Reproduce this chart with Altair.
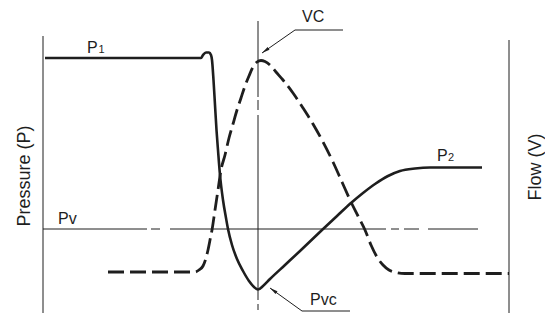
import math
import altair as alt
import pandas as pd

# ---- data (x = horizontal position, y = vertical position, downward) ----
pressure_x = [45, 201, 203, 206, 209, 211, 212, 213.5, 215, 216.5, 218, 220, 223, 226, 228, 232, 237, 243,
              249, 254, 258, 263, 270, 285, 300, 322, 337, 351, 363, 375, 388, 400, 415, 430, 482]
pressure_y = [58, 58, 55, 52.5, 52.5, 55, 60, 80, 105, 130, 150, 175, 200, 218, 229, 245, 259, 271,
              281, 287, 289.5, 286, 279, 265, 251, 230, 216, 203, 193, 184, 176, 171, 168.5, 167.5, 167.5]

flow_x = [108, 195, 199, 203, 206, 208, 210, 212, 215, 218, 221, 225, 229, 233, 237, 241, 245, 249, 253,
          257, 261, 265, 270, 276, 283, 293, 303, 313, 323, 333, 342, 351, 358, 365, 371, 377, 383, 389,
          396, 405, 418, 509]
flow_y = [272, 272, 270, 266, 258, 250, 240, 230, 210, 190, 170, 155, 138, 124, 110, 98, 86, 76, 67,
          62, 60.5, 61.5, 65, 72, 80, 93, 108, 124, 142, 162, 182, 202, 216, 230, 245, 257, 265, 270,
          272.5, 273.5, 273.5, 273.5]

vapour_level = 229          # Pv line
vc_position = 258           # vena contracta position

W, H = 537, 305
xs = alt.Scale(domain=[8, 8 + W], nice=False, zero=False)
ys = alt.Scale(domain=[8, 8 + H], nice=False, zero=False, reverse=True)
INK = "#1e1e1e"
FONT = "Liberation Sans"

def X(f):
    return alt.X(f, type="quantitative", scale=xs, axis=None)

def Y(f):
    return alt.Y(f, type="quantitative", scale=ys, axis=None)

# frame lines (pressure axis left, flow axis right)
frame = pd.DataFrame({"x": [43, 509], "y": [36, 40], "y2": [313, 313]})
frame_layer = alt.Chart(frame).mark_rule(color=INK, strokeWidth=1).encode(
    x=X("x"), y=Y("y"), y2="y2")

pv_df = pd.DataFrame({"x": [43], "x2": [478], "y": [vapour_level]})
pv_layer = alt.Chart(pv_df).mark_rule(
    color=INK, strokeWidth=1, strokeDash=[104, 4, 9, 10, 216, 5, 8, 5, 15, 9, 50]
).encode(x=X("x"), x2="x2", y=Y("y"))

vc_df = pd.DataFrame({"x": [vc_position], "y": [21], "y2": [313]})
vc_layer = alt.Chart(vc_df).mark_rule(
    color=INK, strokeWidth=1, strokeDash=[76, 3, 10, 5, 185, 4, 6, 4, 30]
).encode(x=X("x"), y=Y("y"), y2="y2")

# leader lines
lead = pd.DataFrame({
    "x": [295, 295, 270, 302],
    "y": [30, 30, 288, 311],
    "x2": [343, 262, 302, 350],
    "y2": [30, 53, 311, 311],
})
lead_layer = alt.Chart(lead).mark_rule(color=INK, strokeWidth=1).encode(
    x=X("x"), y=Y("y"), x2="x2", y2="y2")

# arrow heads at leader tips
tips = [(262, 53, 295, 30), (270, 288, 302, 311)]
arr_rows = []
for tx, ty, fx, fy in tips:
    dx, dy = tx - fx, ty - fy
    L = math.hypot(dx, dy)
    ang = math.degrees(math.atan2(dx, -dy)) % 360
    arr_rows.append({"x": tx - 4 * dx / L, "y": ty - 4 * dy / L, "ang": ang})
arrows = pd.DataFrame(arr_rows)
arrow_layer = alt.Chart(arrows).mark_point(
    shape="M0,-1L0.42,1L-0.42,1Z", filled=True, color=INK, opacity=1, size=64, strokeWidth=0
).encode(x=X("x"), y=Y("y"), angle=alt.Angle("ang:Q", scale=None))

flow_df = pd.DataFrame({"x": flow_x, "y": flow_y, "o": range(len(flow_x))})
flow_layer = alt.Chart(flow_df).mark_line(
    color=INK, strokeWidth=2.8, strokeDash=[16, 6], interpolate="monotone"
).encode(x=X("x"), y=Y("y"), order="o:Q")

pres_df = pd.DataFrame({"x": pressure_x, "y": pressure_y, "o": range(len(pressure_x))})
pres_layer = alt.Chart(pres_df).mark_line(
    color=INK, strokeWidth=2.6, interpolate="monotone"
).encode(x=X("x"), y=Y("y"), order="o:Q")

labels = pd.DataFrame({
    "t": ["P", "1", "VC", "Pv", "P", "2", "Pvc"],
    "x": [87, 98.5, 302, 58, 437, 448, 310],
    "y": [53, 53, 22, 224, 161, 161, 305],
    "fs": [16, 11, 16, 16, 16, 11, 16],
})
label_layer = alt.Chart(labels).mark_text(
    align="left", baseline="alphabetic", font=FONT, color=INK
).encode(x=X("x"), y=Y("y"), text="t:N", size=alt.Size("fs:Q", scale=None))

titles = pd.DataFrame({"t": ["Pressure (P)", "Flow (V)"], "x": [25, 536], "y": [176, 167]})
title_layer = alt.Chart(titles).mark_text(
    align="center", baseline="middle", font=FONT, fontSize=18, angle=270, color=INK
).encode(x=X("x"), y=Y("y"), text="t:N")

chart = alt.layer(
    frame_layer, pv_layer, vc_layer, lead_layer, arrow_layer, flow_layer, pres_layer,
    label_layer, title_layer
).properties(
    width=W, height=H, padding=0, background="white",
    autosize=alt.AutoSizeParams(type="none")
).configure_view(stroke=None)

chart.save("out.html", embed_options={"renderer": "svg", "actions": False})
